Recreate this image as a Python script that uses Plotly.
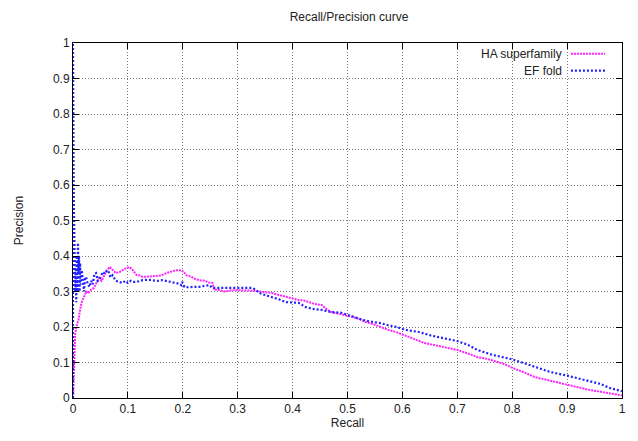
import plotly.graph_objects as go

ha_recall = [0, 0.0005, 0.001, 0.002, 0.003, 0.004, 0.006, 0.008, 0.01, 0.013, 0.016, 0.02, 0.024, 0.028,
             0.033, 0.038, 0.043, 0.047, 0.052, 0.057, 0.062, 0.067, 0.072, 0.078, 0.085, 0.09, 0.096, 0.103,
             0.109, 0.116, 0.122, 0.127, 0.135, 0.143, 0.152, 0.16, 0.17, 0.18, 0.188, 0.197, 0.202, 0.206,
             0.215, 0.223, 0.23, 0.24, 0.248, 0.254, 0.257, 0.265, 0.275, 0.29, 0.305, 0.318, 0.326, 0.333,
             0.339, 0.35, 0.362, 0.375, 0.388, 0.4, 0.411, 0.42, 0.429, 0.44, 0.453, 0.462, 0.471, 0.483,
             0.496, 0.51, 0.522, 0.533, 0.547, 0.56, 0.574, 0.59, 0.605, 0.623, 0.64, 0.655, 0.67, 0.685,
             0.701, 0.72, 0.737, 0.755, 0.77, 0.785, 0.797, 0.81, 0.825, 0.841, 0.86, 0.88, 0.9, 0.92, 0.94,
             0.96, 0.98, 1.0]
ha_precision = [0, 0.03, 0.07, 0.12, 0.15, 0.18, 0.2, 0.21, 0.22, 0.25, 0.27, 0.285, 0.3, 0.295,
                0.305, 0.31, 0.325, 0.338, 0.33, 0.345, 0.36, 0.369, 0.36, 0.352, 0.355, 0.36, 0.365, 0.369,
                0.36, 0.346, 0.345, 0.341, 0.342, 0.344, 0.346, 0.345, 0.352, 0.356, 0.36, 0.36, 0.355, 0.346,
                0.342, 0.335, 0.332, 0.33, 0.325, 0.324, 0.305, 0.305, 0.3, 0.304, 0.304, 0.302, 0.304, 0.302,
                0.3, 0.298, 0.296, 0.29, 0.285, 0.28, 0.276, 0.275, 0.27, 0.265, 0.262, 0.25, 0.242, 0.238,
                0.234, 0.228, 0.222, 0.214, 0.208, 0.2, 0.192, 0.185, 0.176, 0.163, 0.155, 0.15, 0.145, 0.14,
                0.135, 0.125, 0.115, 0.11, 0.103, 0.096, 0.087, 0.08, 0.07, 0.059, 0.052, 0.045, 0.037, 0.03,
                0.023, 0.018, 0.012, 0.007]

ef_recall = [0, 0, 0.0005, 0.001, 0.0015, 0.002, 0.003, 0.004, 0.005, 0.006, 0.007, 0.008, 0.009, 0.01,
             0.011, 0.012, 0.013, 0.014, 0.016, 0.018, 0.02, 0.022, 0.024, 0.027, 0.03, 0.033, 0.036, 0.039,
             0.042, 0.045, 0.047, 0.05, 0.054, 0.058, 0.062, 0.065, 0.068, 0.072, 0.078, 0.084, 0.09, 0.095,
             0.1, 0.105, 0.11, 0.116, 0.122, 0.127, 0.135, 0.145, 0.155, 0.163, 0.17, 0.176, 0.182, 0.188,
             0.193, 0.197, 0.199, 0.203, 0.21, 0.22, 0.23, 0.24, 0.248, 0.254, 0.27, 0.29, 0.31, 0.326,
             0.333, 0.339, 0.35, 0.362, 0.375, 0.388, 0.4, 0.411, 0.424, 0.44, 0.453, 0.47, 0.489, 0.5,
             0.514, 0.528, 0.543, 0.56, 0.574, 0.59, 0.605, 0.63, 0.652, 0.675, 0.701, 0.72, 0.737, 0.765,
             0.797, 0.82, 0.841, 0.87, 0.9, 0.93, 0.96, 0.98, 1.0]
ef_precision = [0, 1.0, 0.9, 0.66, 0.55, 0.45, 0.4, 0.3, 0.36, 0.27, 0.4, 0.3, 0.437, 0.35,
                0.4, 0.3, 0.38, 0.32, 0.36, 0.324, 0.3, 0.34, 0.34, 0.32, 0.313, 0.33, 0.32, 0.35,
                0.352, 0.33, 0.332, 0.34, 0.355, 0.35, 0.36, 0.355, 0.34, 0.346, 0.33, 0.327, 0.324, 0.33,
                0.324, 0.33, 0.327, 0.327, 0.33, 0.332, 0.333, 0.332, 0.33, 0.332, 0.33, 0.327, 0.326, 0.324,
                0.322, 0.318, 0.327, 0.313, 0.312, 0.313, 0.313, 0.316, 0.318, 0.31, 0.31, 0.31, 0.31, 0.31,
                0.305, 0.296, 0.29, 0.285, 0.278, 0.27, 0.27, 0.268, 0.256, 0.25, 0.248, 0.242, 0.24, 0.234,
                0.228, 0.22, 0.215, 0.211, 0.205, 0.2, 0.192, 0.186, 0.176, 0.169, 0.16, 0.149, 0.135, 0.121,
                0.11, 0.099, 0.088, 0.073, 0.063, 0.051, 0.04, 0.027, 0.019, 0.012]

tick_vals = [0, 0.1, 0.2, 0.3, 0.4, 0.5, 0.6, 0.7, 0.8, 0.9, 1]
tick_text = ["0", "0.1", "0.2", "0.3", "0.4", "0.5", "0.6", "0.7", "0.8", "0.9", "1"]
series_names = ["HA superfamily", "EF fold"]
series_colors = ["#ff22ff", "#2222ff"]
series_widths = [2, 2.2]
series_dash = ["2px,1px", "2px,2px"]

FONT = "Liberation Sans, Arial, Helvetica, sans-serif"

fig = go.Figure()
fig.add_trace(go.Scatter(x=ha_recall, y=ha_precision, mode="lines", name=series_names[0],
                         line=dict(color=series_colors[0], width=series_widths[0], dash=series_dash[0]),
                         showlegend=False))
fig.add_trace(go.Scatter(x=ef_recall, y=ef_precision, mode="lines", name=series_names[1],
                         line=dict(color=series_colors[1], width=series_widths[1], dash=series_dash[1]),
                         showlegend=False))

axis_common = dict(
    range=[0, 1], tickvals=tick_vals, ticktext=tick_text, ticks="inside", ticklen=6,
    tickcolor="black", showline=True, linecolor="black", linewidth=1, mirror="allticks",
    showgrid=True, gridcolor="#777777", griddash="1px,2px", gridwidth=1, zeroline=False,
    tickfont=dict(family=FONT, size=12, color="#222222"),
)

fig.update_layout(
    width=638, height=441,
    margin=dict(l=73, r=13, t=43, b=43),
    paper_bgcolor="white", plot_bgcolor="white",
    title=dict(text="Recall/Precision curve", x=(73 + 552 / 2) / 638, xanchor="center",
               y=1 - 17 / 441, yanchor="middle",
               font=dict(family=FONT, size=12, color="#222222")),
    xaxis=dict(axis_common, title=dict(text="Recall", font=dict(family=FONT, size=12, color="#222222"), standoff=3)),
    yaxis=dict(axis_common, title=dict(text="Precision", font=dict(family=FONT, size=12, color="#222222"), standoff=26)),
)

# gnuplot-style legend: right-aligned text followed by line sample
legend_y = [0.97, 0.922]
for name, color, yy, w, d in zip(series_names, series_colors, legend_y, series_widths, series_dash):
    fig.add_annotation(x=0.895, y=yy, xref="paper", yref="paper", text=name, showarrow=False,
                       xanchor="right", yanchor="middle", font=dict(family=FONT, size=12, color="#222222"))
    fig.add_shape(type="line", xref="paper", yref="paper", x0=0.907, x1=0.969, y0=yy, y1=yy,
                  line=dict(color=color, width=w, dash=d))

fig.write_html("out.html")
